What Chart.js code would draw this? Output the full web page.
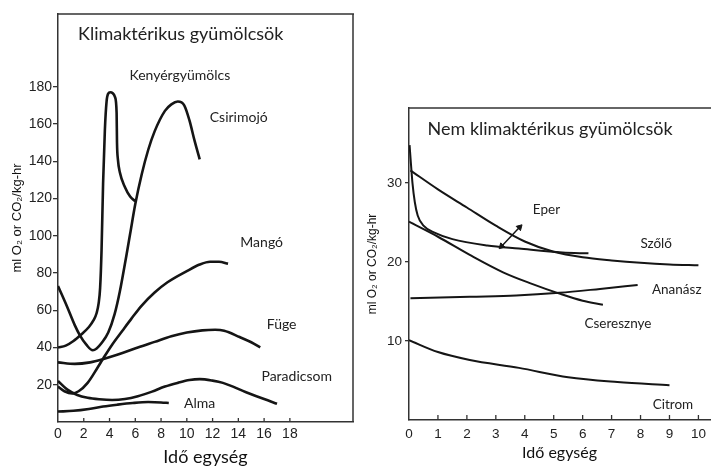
<!DOCTYPE html>
<html><head><meta charset="utf-8">
<script src="https://cdn.jsdelivr.net/npm/chart.js@4.4.1/dist/chart.umd.min.js"></script>
<style>
html,body{margin:0;padding:0;background:#fff;}
#wrap{position:relative;width:715px;height:466px;overflow:hidden;background:#fff;}
#c1{position:absolute;left:0;top:0;}
#c2{position:absolute;left:360px;top:0;}
</style></head><body>
<div id="wrap"><canvas id="c1" width="360" height="466"></canvas><canvas id="c2" width="355" height="466"></canvas></div>
<script>
// ---------- data: left panel (Klimaktérikus gyümölcsök) ----------
const leftTitle = 'Klimaktérikus gyümölcsök';
const rightTitle = 'Nem klimaktérikus gyümölcsök';
const xAxisTitle = 'Idő egység';
const yAxisTitle = 'ml O₂ or CO₂/kg-hr';

const leftNames = ['Kenyérgyümölcs', 'Csirimojó', 'Mangó', 'Füge', 'Paradicsom', 'Alma'];
const kenyergyumolcs = [[0,40],[0.6,41],[1.2,43.5],[1.8,47],[2.4,51],[2.75,54.5],[3.0,58.5],[3.15,63.5],[3.27,72],[3.38,92],[3.5,128],[3.64,157],[3.77,172],[3.9,176.3],[4.05,177],[4.25,176.5],[4.42,174.5],[4.55,166],[4.58,150],[4.65,141],[4.8,134],[5.2,126],[5.6,121],[6.0,118.5]];
const csirimojo = [[0,73],[0.7,62],[1.3,52],[1.7,46.5],[2.2,41.5],[2.7,38.5],[3.0,39.5],[3.4,42.5],[3.9,48],[4.4,58],[4.8,70],[5.3,89],[5.6,101],[6.0,117],[6.5,133],[7.0,146],[7.5,156],[8.3,167],[8.8,170.5],[9.3,172],[9.8,170],[10.2,162],[10.6,151],[11.0,141]];
const mango = [[0,19],[0.5,16.5],[1.1,15.3],[1.6,16.5],[2.3,21],[3.1,29.5],[3.5,34],[4.2,41.5],[5.0,49],[5.7,55.5],[6.5,62.5],[7.5,69.5],[8.5,75],[10,81],[11,84.5],[11.8,86],[12.5,86],[13.2,85]];
const fuge = [[0,32],[1.3,31.2],[2.5,32],[3.4,33.5],[5,37],[6.2,40],[7.5,43],[8.8,46],[10,48],[11.2,49.2],[12.2,49.5],[12.9,49],[14.1,45.6],[15,42.8],[15.7,40]];
const paradicsom = [[0,22],[0.7,17.5],[1.5,14.5],[2.3,13],[3.2,12.2],[4.2,11.8],[5.2,12.3],[6.2,13.8],[7.3,16.3],[8.3,19],[9.3,21],[10.2,22.5],[11.0,23],[12,22.2],[12.8,21],[14.6,16],[16,12.3],[17,9.8]];
const alma = [[0,5.6],[1.2,6],[2.4,7],[3.5,8.3],[4.6,9.3],[5.8,10.2],[7,10.7],[8,10.5],[8.6,10.2]];
const leftXTicks = [0,2,4,6,8,10,12,14,16,18];
const leftYTicks = [20,40,60,80,100,120,140,160,180];

// ---------- data: right panel (Nem klimaktérikus gyümölcsök) ----------
const rightNames = ['Eper', 'Szőlő', 'Ananász', 'Cseresznye', 'Citrom'];
const eper = [[0.02,34.8],[0.07,32.3],[0.12,30],[0.2,27.6],[0.3,25.9],[0.5,24.6],[0.9,23.7],[1.5,22.9],[2.7,22.1],[3.8,21.7],[5.3,21.2],[6.2,21.1]];
const szolo = [[0.05,31.6],[1,29.2],[2,26.9],[3,24.6],[4,22.6],[5,21.3],[6,20.6],[7,20.2],[8,19.9],[9,19.7],[10,19.6]];
const ananasz = [[0.05,15.4],[2.1,15.6],[3.7,15.75],[5.2,16.1],[6.6,16.6],[7.9,17.1]];
const cseresznye = [[0,25.1],[1,23.2],[2.1,20.9],[3.25,18.7],[4.2,17.3],[5.2,16],[6,15.1],[6.7,14.6]];
const citrom = [[0,10.1],[1,8.6],[2.1,7.6],[3.8,6.6],[5.5,5.4],[7.2,4.8],[9,4.4]];
const eperArrow = [[3.2,22.0],[3.82,24.4]];
const rightXTicks = [0,1,2,3,4,5,6,7,8,9,10];
const rightYTicks = [10,20,30];

// ---------- helpers ----------
const INK = '#151515';
const TXT = '#222';
const toXY = arr => arr.map(p => ({x: p[0], y: p[1]}));
const line = (data, w) => ({data: toXY(data), showLine: true, borderColor: INK, borderWidth: w,
  pointRadius: 0, cubicInterpolationMode: 'monotone', fill: false});

const notesPlugin = {
  id: 'notes',
  afterDraw(chart, args, opts) {
    const {ctx, chartArea: a, scales: {x, y}} = chart;
    ctx.save();
    ctx.strokeStyle = opts.frameColor; ctx.lineWidth = opts.frameWidth;
    ctx.beginPath();
    ctx.moveTo(a.left - 0.5, a.top); ctx.lineTo(a.right + 1, a.top);
    if (opts.rightEdge) { ctx.moveTo(a.right, a.top); ctx.lineTo(a.right, a.bottom); }
    ctx.stroke();
    ctx.lineWidth = 1.3;
    ctx.beginPath();
    x.ticks.forEach(t => {
      if (t.value === 0) return;
      const px = x.getPixelForValue(t.value);
      ctx.moveTo(px, a.bottom); ctx.lineTo(px, a.bottom - opts.tickLen);
    });
    ctx.stroke();
    ctx.fillStyle = TXT; ctx.textBaseline = 'middle';
    opts.texts.forEach(t => {
      ctx.font = t.font; ctx.textAlign = t.align || 'center';
      ctx.fillText(t.text, x.getPixelForValue(t.at[0]), y.getPixelForValue(t.at[1]));
    });
    ctx.restore();
  }
};

function scalesFor(cfg) {
  return {
    x: {type: 'linear', min: 0, max: cfg.xMax,
      afterFit: s => { s.height = cfg.xH; },
      afterBuildTicks: s => { s.ticks = cfg.xTicks.map(v => ({value: v})); },
      grid: {display: false, drawTicks: false},
      border: {display: true, color: '#333', width: 1.5},
      ticks: {color: TXT, padding: cfg.xPad, maxRotation: 0, autoSkip: false,
        font: {family: 'Liberation Sans', size: cfg.tickSize}},
      title: {display: true, text: xAxisTitle, color: '#111',
        font: {family: 'Lato', size: cfg.xTitleSize, lineHeight: 1}, padding: {top: 0, bottom: cfg.xTitlePad}}
    },
    y: {type: 'linear', min: 0, max: cfg.yMax,
      afterFit: s => { s.width = cfg.yW; },
      afterBuildTicks: s => { s.ticks = cfg.yTicks.map(v => ({value: v})); },
      grid: {display: true, drawOnChartArea: false, drawTicks: true, tickLength: cfg.yTickLen, color: '#333', lineWidth: 1.3},
      border: {display: true, color: '#333', width: 1.5},
      ticks: {color: TXT, padding: cfg.yPad, autoSkip: false,
        font: {family: 'Liberation Sans', size: cfg.tickSize}},
      title: {display: true, text: yAxisTitle, color: '#111',
        font: {family: 'Liberation Sans', size: cfg.yTitleSize}, padding: {top: cfg.yTitlePad, bottom: 0}}
    }
  };
}

const common = {responsive: false, animation: false, devicePixelRatio: 1,
  plugins: {legend: {display: false}, tooltip: {enabled: false}}};

// ---------- left chart ----------
new Chart(document.getElementById('c1'), {
  type: 'scatter',
  data: {datasets: [kenyergyumolcs, csirimojo, mango, fuge, paradicsom, alma].map(d => line(d, 2.6))},
  options: Object.assign({}, common, {
    layout: {padding: {left: 0, top: 14, right: 7, bottom: 0}},
    scales: scalesFor({xMax: 22.9, yMax: 219, xH: 44, yW: 58, xTicks: leftXTicks, yTicks: leftYTicks,
      xPad: 4, yPad: 1, yTickLen: 5, tickSize: 14, xTitleSize: 18, xTitlePad: 0, yTitleSize: 13, yTitlePad: 10}),
    plugins: Object.assign({}, common.plugins, {notes: {frameColor: '#333', frameWidth: 1.5, rightEdge: true, tickLen: 4,
      texts: [
        {text: leftTitle, at: [1.55, 208.4], font: '18px Lato', align: 'left'},
        {text: leftNames[0], at: [9.46, 185.8], font: '14px Lato'},
        {text: leftNames[1], at: [14.03, 163.3], font: '14px Lato'},
        {text: leftNames[2], at: [15.81, 96.1], font: '14px Lato'},
        {text: leftNames[3], at: [17.36, 52.1], font: '14px Lato'},
        {text: leftNames[4], at: [18.53, 24.2], font: '14px Lato'},
        {text: leftNames[5], at: [11.0, 10.2], font: '14px Lato'}
      ]}})
  }),
  plugins: [notesPlugin]
});

// ---------- right chart ----------
const rightSets = [eper, szolo, ananasz, cseresznye, citrom].map(d => line(d, 2));
rightSets.push({data: toXY(eperArrow), showLine: true, borderColor: INK, borderWidth: 1.5,
  pointStyle: 'triangle', pointRadius: 3.5, pointRotation: [225, 45], pointBackgroundColor: INK,
  pointBorderColor: INK, pointBorderWidth: 1});
new Chart(document.getElementById('c2'), {
  type: 'scatter',
  data: {datasets: rightSets},
  options: Object.assign({}, common, {
    layout: {padding: {left: 0, top: 108, right: 0, bottom: 0}},
    scales: scalesFor({xMax: 10.4, yMax: 39.5, xH: 46, yW: 49, xTicks: rightXTicks, yTicks: rightYTicks,
      xPad: 6, yPad: 3, yTickLen: 4, tickSize: 13.5, xTitleSize: 16, xTitlePad: 5, yTitleSize: 12, yTitlePad: 5}),
    plugins: Object.assign({}, common.plugins, {notes: {frameColor: '#333', frameWidth: 1.5, rightEdge: false, tickLen: 5,
      texts: [
        {text: rightTitle, at: [0.64, 36.8], font: '18px Lato', align: 'left'},
        {text: rightNames[0], at: [4.75, 26.6], font: '13.5px Lato'},
        {text: rightNames[1], at: [8.54, 22.3], font: '13.5px Lato'},
        {text: rightNames[2], at: [9.25, 16.5], font: '13.5px Lato'},
        {text: rightNames[3], at: [7.22, 12.2], font: '13.5px Lato'},
        {text: rightNames[4], at: [9.12, 2.0], font: '13.5px Lato'}
      ]}})
  }),
  plugins: [notesPlugin]
});
</script>
</body></html>
